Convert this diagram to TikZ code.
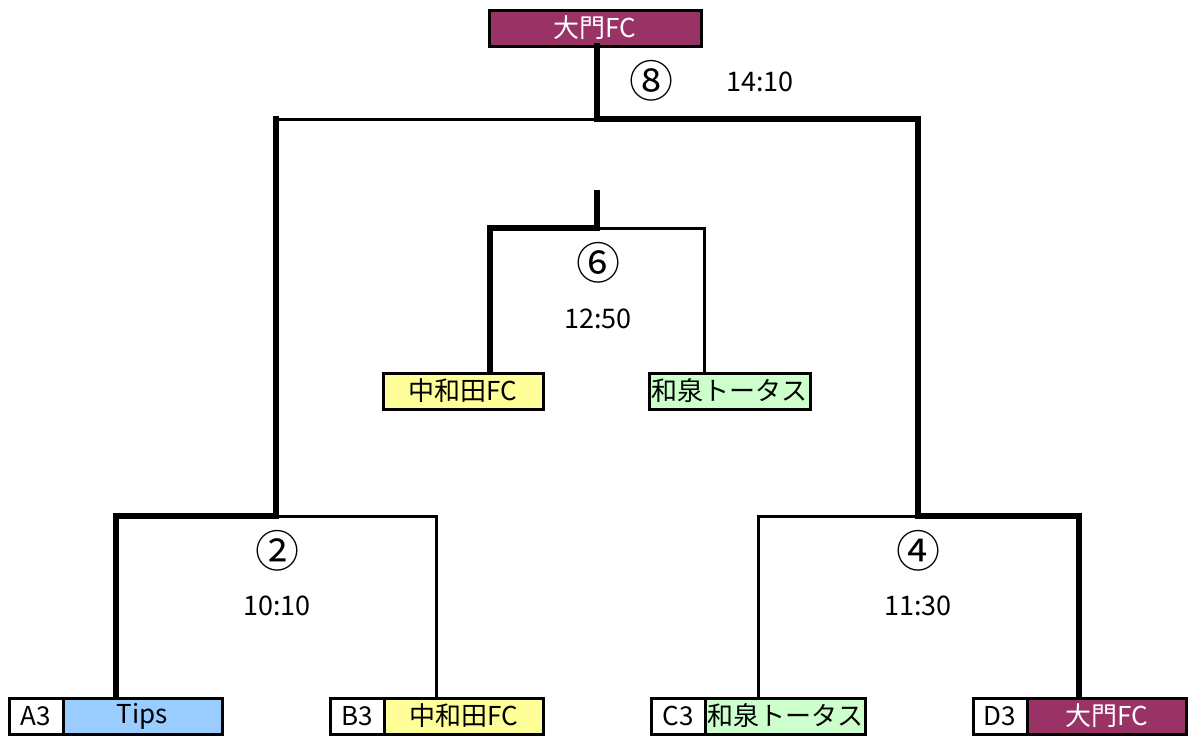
\documentclass[tikz,border=0pt]{standalone}
\usepackage{fontspec}
\setmainfont{Noto Sans CJK JP}
\definecolor{maroon}{HTML}{993366}
\definecolor{lyellow}{HTML}{FFFF99}
\definecolor{lblue}{HTML}{99CCFF}
\definecolor{lgreen}{HTML}{CCFFCC}
\tikzset{
  team/.style={draw=black, line width=3pt, inner sep=0pt, outer sep=0pt, minimum height=36pt, font=\fontsize{26}{26}\selectfont},
  seed/.style={team, fill=white, minimum width=54pt},
  thickline/.style={line width=6.5pt, line cap=rect, line join=miter},
  thinline/.style={line width=3pt, line cap=rect, line join=miter},
  num/.style={font=\fontsize{44}{44}\selectfont},
  timelbl/.style={font=\fontsize{27}{27}\selectfont},
}
\begin{document}
\begin{tikzpicture}[x=1pt,y=-1pt]
\useasboundingbox (0,0) rectangle (1191,736);
% coordinates
\coordinate (j8) at (597,119);
\coordinate (c8L) at (276,119);
\coordinate (c8R) at (918,119);
\coordinate (m2) at (276,516);
\coordinate (a2) at (116,516);
\coordinate (b2) at (436,516);
\coordinate (m4) at (918,516);
\coordinate (c4) at (758,516);
\coordinate (d4) at (1079,516);
\coordinate (s6) at (597,193);
\coordinate (m6) at (597,228);
\coordinate (l6) at (490,228);
\coordinate (r6) at (704,228);
% lines (drawn first, boxes on top)
\draw[thinline] (j8) -- (c8L);
\draw[thickline] (c8L) -- (m2);
\draw[thickline] (j8) -- (c8R) -- (m4);
\draw[thinline] (m2) -- (b2) -- (436,697);
\draw[thickline] (m2) -- (a2) -- (116,697);
\draw[thinline] (m4) -- (c4) -- (758,697);
\draw[thickline] (m4) -- (d4) -- (1079,697);
\draw[thinline] (m6) -- (r6) -- (704,373);
\draw[thickline] (s6) -- (m6) -- (l6) -- (490,373);
% top winner
\node[team, fill=maroon, text=white, minimum width=212pt] (top) at (595,28) {大門FC};
\draw[thickline] (top.south -| j8) -- (j8);
% middle boxes
\node[team, fill=lyellow, minimum width=160pt] (mid1) at (463,391) {中和田FC};
\node[team, fill=lgreen, minimum width=161pt] (mid2) at (729.5,391) {和泉トータス};
% bottom boxes
\node[seed] (sA) at (36,716) {A3};
\node[team, fill=lblue, anchor=west, minimum width=159pt] (tA) at (sA.east) {Tips};
\node[seed] (sB) at (357,716) {B3};
\node[team, fill=lyellow, anchor=west, minimum width=159pt] (tB) at (sB.east) {中和田FC};
\node[seed] (sC) at (678,716) {C3};
\node[team, fill=lgreen, anchor=west, minimum width=160pt] (tC) at (sC.east) {和泉トータス};
\node[seed] (sD) at (1000,716) {D3};
\node[team, fill=maroon, text=white, anchor=west, minimum width=159pt] (tD) at (sD.east) {大門FC};
% labels
\node[num] (n8) at (651,81) {⑧};
\node[timelbl] (t8) at (760,82) {14:10};
\node[num] (n6) at (598,263) {⑥};
\node[timelbl] (t6) at (598,319) {12:50};
\node[num] (n2) at (277,551) {②};
\node[timelbl] (t2) at (277,606) {10:10};
\node[num] (n4) at (918,551) {④};
\node[timelbl] (t4) at (918,606) {11:30};
\end{tikzpicture}
\end{document}
